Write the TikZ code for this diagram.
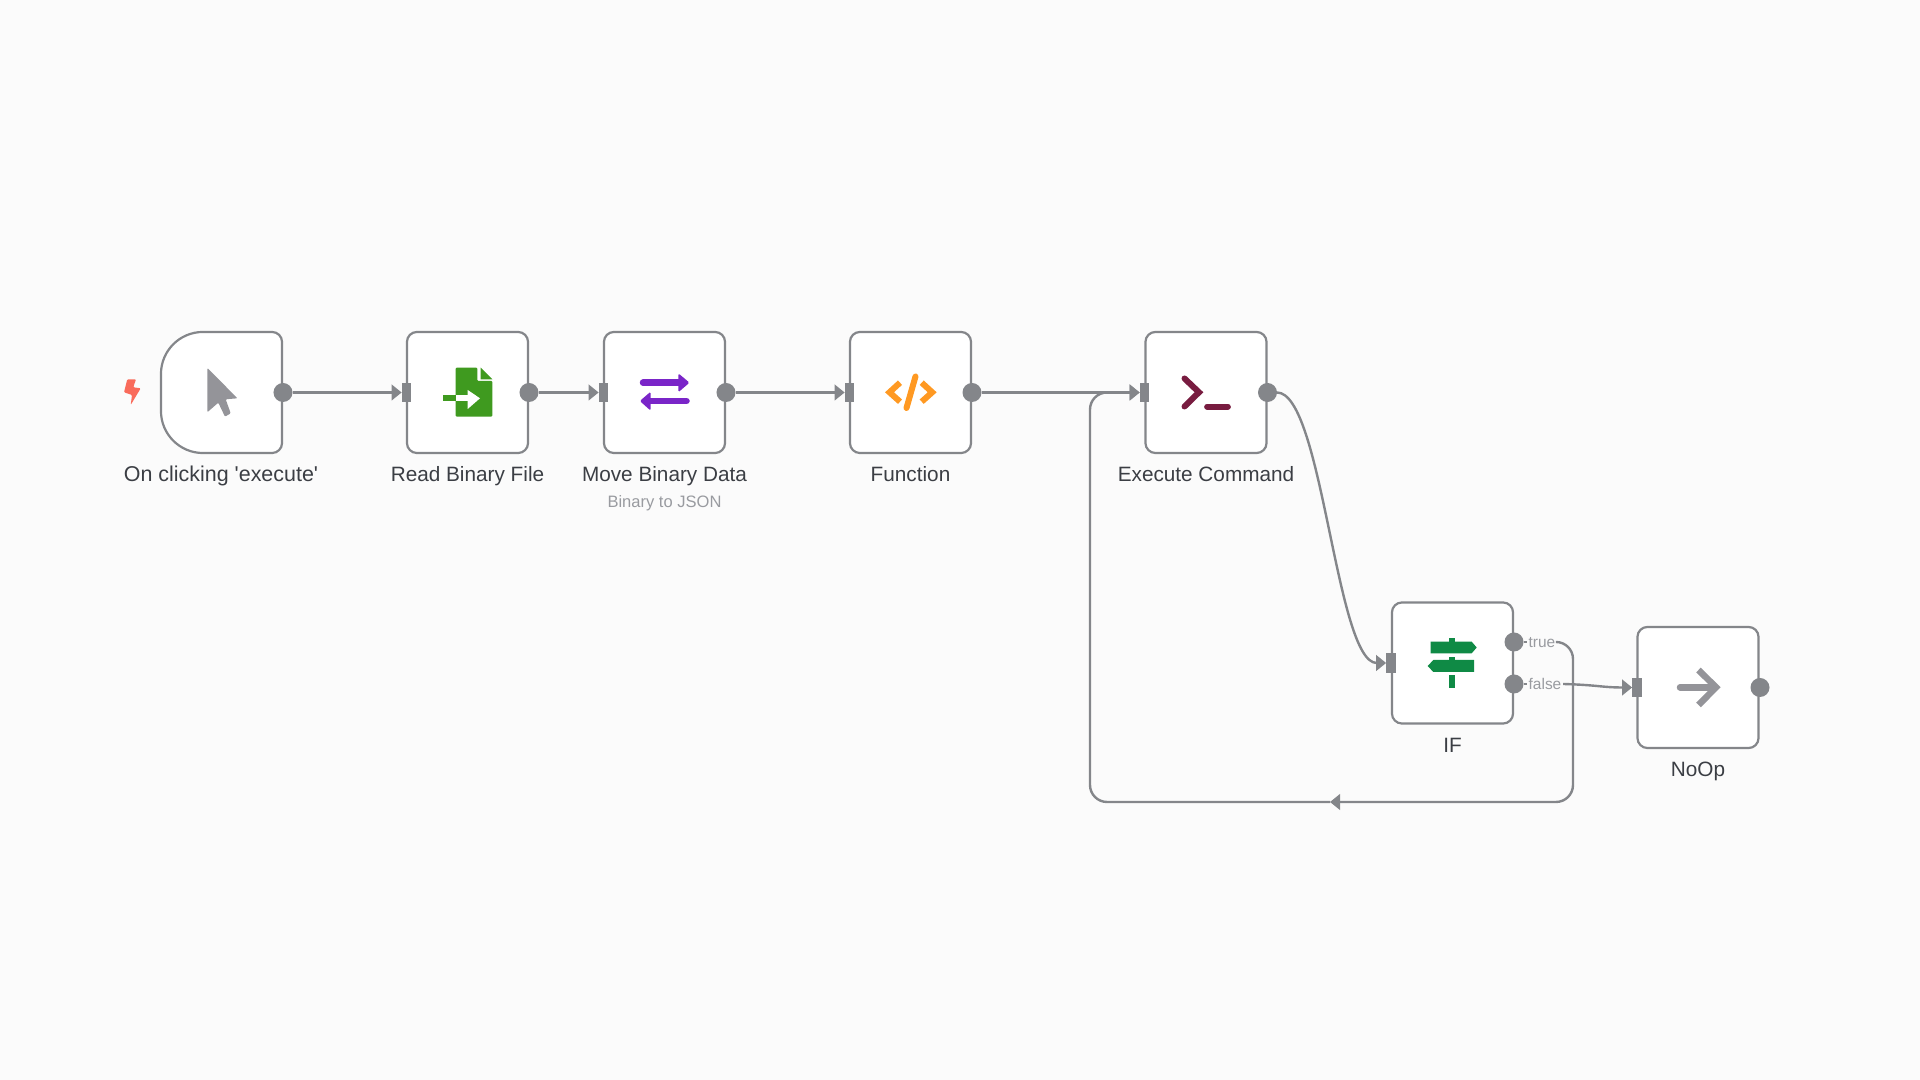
\documentclass[tikz,border=0pt]{standalone}
\usepackage{fontspec}
\setmainfont{Liberation Sans}
\usetikzlibrary{arrows.meta}
\definecolor{pagebg}{HTML}{FBFBFB}
\definecolor{linegray}{HTML}{84868A}
\definecolor{labeldark}{HTML}{3B3E44}
\definecolor{labelsoft}{HTML}{999BA0}
\definecolor{icongray}{HTML}{949499}
\definecolor{boltred}{HTML}{F96B5B}
\definecolor{filegreen}{HTML}{3F9A1F}
\definecolor{movepurple}{HTML}{7A25C8}
\definecolor{codeorange}{HTML}{FF9922}
\definecolor{termmaroon}{HTML}{781C40}
\definecolor{ifgreen}{HTML}{0F8A45}
\tikzset{
	nodebox/.style={draw=linegray, fill=white, line width=0.022cm, rounded corners=0.1cm, minimum size=1.21cm, inner sep=0, outer sep=0},
	nodelabel/.style={text=labeldark, anchor=base, inner sep=0, font=\fontsize{5.9}{7}\selectfont},
	sublabel/.style={text=labelsoft, anchor=base, inner sep=0, font=\fontsize{4.7}{5.5}\selectfont},
	portlabel/.style={text=labelsoft, fill=pagebg, inner sep=0.3pt, text height=3.5pt, text depth=0.5pt, font=\fontsize{4.4}{5}\selectfont},
	outport/.style={circle, fill=linegray, minimum size=0.19cm, inner sep=0, outer sep=0},
	inport/.style={rectangle, fill=linegray, minimum width=0.097cm, minimum height=0.197cm, inner sep=0, outer sep=0},
	flow/.style={draw=linegray, line width=0.024cm},
	flowtip/.style={flow, -{Triangle[length=0.1cm, width=0.155cm]}}
}

\begin{document}
\begin{tikzpicture}[x=0.01cm, y=-0.01cm]
	%%%%% START %%%%%
	
	\useasboundingbox (0, 0) rectangle (1920, 1080);
	\fill[pagebg] (0, 0) rectangle (1920, 1080);
	
	\node[nodebox, draw=none, fill=none] (trigger) at (221.5, 392.5) {};
	\draw[draw=linegray, fill=white, line width=0.022cm, line join=round] (trigger.north) [rounded corners=0.1cm] -- (trigger.north east) -- (trigger.south east) -- (trigger.south) [rounded corners=0.42cm] -- (trigger.south west) -- (trigger.north west) -- (trigger.north);
	\node[nodebox] (readfile) at (467.5, 392.5) {};
	\node[nodebox] (movedata) at (664.5, 392.5) {};
	\node[nodebox] (function) at (910.5, 392.5) {};
	\node[nodebox] (execute) at (1206, 392.5) {};
	\node[nodebox] (ifnode) at (1452.5, 663) {};
	\node[nodebox] (noop) at (1698, 687.5) {};
	
	\node[nodelabel, font=\fontsize{6.1}{7}\selectfont] (triggerlabel) at (221, 481.5) {On clicking \textquotesingle execute\textquotesingle};
	\node[nodelabel] (readfilelabel) at (467.5, 481.5) {Read Binary File};
	\node[nodelabel] (movedatalabel) at (664.5, 481.5) {Move Binary Data};
	\node[sublabel] (movedatasub) at (664.5, 507.3) {Binary to JSON};
	\node[nodelabel] (functionlabel) at (910.5, 481.5) {Function};
	\node[nodelabel] (executelabel) at (1206, 481.5) {Execute Command};
	\node[nodelabel] (iflabel) at (1452.5, 752.5) {IF};
	\node[nodelabel] (nooplabel) at (1698, 776.5) {NoOp};
	
	\node[outport] (triggerout) at (283, 392.5) {};
	\node[outport] (readfileout) at (529, 392.5) {};
	\node[outport] (movedataout) at (726, 392.5) {};
	\node[outport] (functionout) at (972, 392.5) {};
	\node[outport] (executeout) at (1267.5, 392.5) {};
	\node[outport] (iftrue) at (1514, 642) {};
	\node[outport] (iffalse) at (1514, 684) {};
	\node[outport] (noopout) at (1760, 687.5) {};
	
	\node[inport] (readfilein) at (406.5, 392.5) {};
	\node[inport] (movedatain) at (603.5, 392.5) {};
	\node[inport] (functionin) at (849.5, 392.5) {};
	\node[inport] (executein) at (1144.5, 392.5) {};
	\node[inport] (ifin) at (1391, 663) {};
	\node[inport] (noopin) at (1637, 687.5) {};
	
	\node[portlabel] (truelabel) at (1542, 642) {true};
	\node[portlabel] (falselabel) at (1545, 684) {false};
	
	\coordinate (loopse) at (1573, 802);
	\coordinate (loopsw) at (1090, 802);
	\coordinate (loopnw) at (1090, 392.5);
	\coordinate (looptip) at (1330, 802);
	
	\draw[flowtip] (triggerout) -- (readfilein);
	\draw[flowtip] (readfileout) -- (movedatain);
	\draw[flowtip] (movedataout) -- (functionin);
	\draw[flowtip] (functionout) -- (executein);
	\draw[flowtip] (executeout) .. controls +(55, 0) and +(-55, 0) .. (ifin);
	\draw[flow] (iftrue) -- (truelabel);
	\draw[flow] (iffalse) -- (falselabel);
	\draw[flowtip, rounded corners=0.17cm] (truelabel.east) -| (loopse) -- (looptip);
	\draw[flowtip, rounded corners=0.17cm] (looptip) -- (loopsw) -- (loopnw) -- (executein);
	\draw[flowtip] (falselabel.east) .. controls +(35, 1) and +(-35, 0) .. (noopin);
	
	\fill[boltred, rounded corners=0.01cm] (127.3, 379.3) -- (136, 379.3) -- (133.3, 387.3) -- (140.7, 388.3) -- (130.7, 405) -- (132, 395) -- (124, 392.3) -- cycle;
	
	\fill[icongray, rounded corners=0.01cm] (207.3, 368) -- (237.5, 398.3) -- (225.7, 399.3) -- (230.7, 413.3) -- (225, 416.7) -- (218.3, 402.7) -- (207.3, 412.3) -- cycle;
	
	\fill[filegreen, rounded corners=0.01cm] (455.7, 367.7) -- (477.3, 367.7) -- (477.3, 381) -- (492.3, 381) -- (492.3, 416.7) -- (455.7, 416.7) -- cycle;
	\fill[filegreen] (480.7, 367.7) -- (492.3, 379.3) -- (480.7, 379.3) -- cycle;
	\fill[filegreen] (443.3, 395.3) rectangle (455.7, 401.3);
	\fill[white] (455.7, 395.3) rectangle (468.3, 401.3);
	\fill[white] (467.7, 390) -- (480, 398.3) -- (467.7, 409) -- cycle;
	
	\draw[movepurple, line width=0.065cm, line cap=round] (643, 382.7) -- (682, 382.7);
	\fill[movepurple, rounded corners=0.015cm] (678.3, 373.3) -- (689.5, 382.7) -- (678.3, 392.3) -- cycle;
	\draw[movepurple, line width=0.065cm, line cap=round] (648, 401) -- (686.5, 401);
	\fill[movepurple, rounded corners=0.015cm] (650.7, 391.7) -- (639.8, 401) -- (650.7, 410.7) -- cycle;
	
	\draw[codeorange, line width=0.06cm] (900, 382.7) -- (889.5, 392.3) -- (900, 401.7);
	\draw[codeorange, line width=0.06cm, line cap=round] (915.5, 376.5) -- (906.5, 408);
	\draw[codeorange, line width=0.06cm] (921.7, 382.7) -- (932.2, 392.3) -- (921.7, 401.7);
	
	\draw[termmaroon, line width=0.06cm, line cap=round] (1184.5, 378.5) -- (1199, 392.3) -- (1184.5, 406.5);
	\draw[termmaroon, line width=0.057cm, line cap=round] (1207, 406.7) -- (1228, 406.7);
	
	\fill[ifgreen] (1449.3, 638.3) rectangle (1455.3, 690);
	\fill[white] (1449, 672) rectangle (1456, 675.3);
	\fill[white] (1449, 653.3) rectangle (1456, 656.7);
	\fill[white] (1449, 687.7) rectangle (1456, 691);
	\fill[ifgreen] (1430.7, 641.7) -- (1471.7, 641.7) -- (1476.7, 647.5) -- (1471.7, 653.3) -- (1430.7, 653.3) -- cycle;
	\fill[ifgreen] (1474, 660) -- (1433.3, 660) -- (1427.7, 666) -- (1433.3, 672) -- (1474, 672) -- cycle;
	
	\draw[icongray, line width=0.065cm, line cap=round] (1680, 687.3) -- (1714, 687.3);
	\draw[icongray, line width=0.065cm] (1698.5, 670) -- (1716, 687.3) -- (1698.5, 705);
	
	%%%%% END %%%%%
\end{tikzpicture}
\end{document}
